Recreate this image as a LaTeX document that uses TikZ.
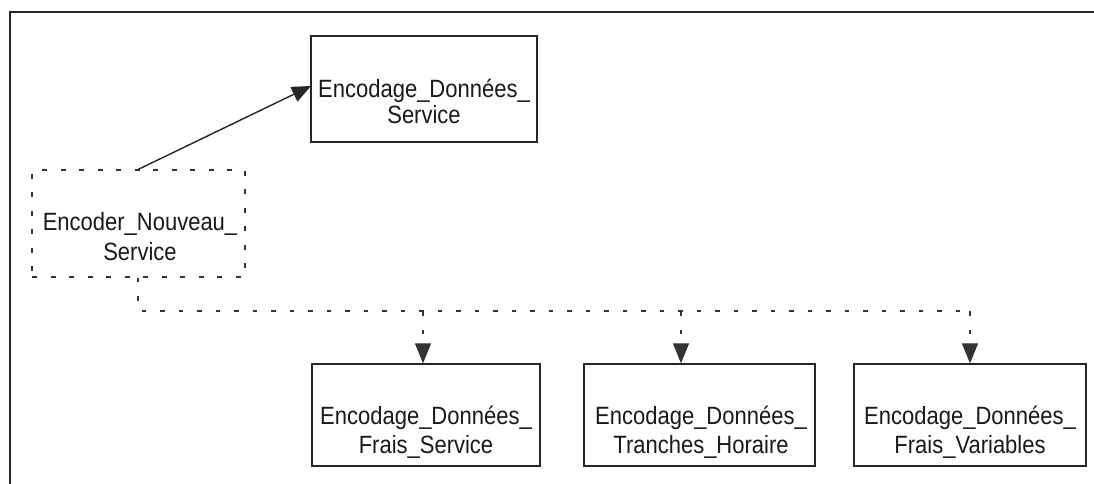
\documentclass[tikz,border=0pt]{standalone}
\usepackage{fontspec}
\setmainfont{Liberation Sans}[FakeStretch=0.88]
\usetikzlibrary{arrows.meta}
\begin{document}
\begin{tikzpicture}[x=1pt,y=-1pt,
  box/.style={draw=black!85, line width=1.3pt, minimum width=#1, minimum height=106pt, inner sep=0pt},
  dbox/.style={draw=black!80, line width=1.2pt, dash pattern=on 5pt off 13.5pt, minimum width=213pt, minimum height=107pt, inner sep=0pt},
  txt/.style={anchor=base, inner sep=0pt, font=\fontsize{25}{26}\selectfont, text=black!90},
  solidarrow/.style={draw=black!85, line width=1.4pt, -{Triangle[length=19pt,width=16pt]}},
  dotline/.style={draw=black!80, line width=1.2pt, dash pattern=on 4.5pt off 14pt},
  dotarrow/.style={dotline, -{Triangle[length=20pt,width=16pt]}}
]
\useasboundingbox (0,0) rectangle (1094,484);
% frame
\draw[line width=2pt, black!85] (10,484) -- (10,12) -- (1094,12);

% boxes
\node[box=226pt] (eds) at (424,89) {};
\node[dbox] (enc) at (138.5,223.5) {};
\node[box=228pt, minimum height=102pt] (fs) at (426,415) {};
\node[box=231pt, minimum height=102pt] (th) at (699.5,415) {};
\node[box=232pt, minimum height=102pt] (fv) at (970,415) {};

% texts
\node[txt] (eds1) at (424,98) {Encodage\_Données\_};
\node[txt] (eds2) at (424,124) {Service};
\node[txt] (enc1) at (140,230) {Encoder\_Nouveau\_};
\node[txt] (enc2) at (140,260) {Service};
\node[txt] (fs1) at (426,424) {Encodage\_Données\_};
\node[txt] (fs2) at (426,453) {Frais\_Service};
\node[txt] (th1) at (701,424) {Encodage\_Données\_};
\node[txt] (th2) at (701,453) {Tranches\_Horaire};
\node[txt] (fv1) at (970,424) {Encodage\_Données\_};
\node[txt] (fv2) at (970,453) {Frais\_Variables};

% solid arrow
\coordinate (encTop) at (137,170);
\coordinate (edsIn) at (311,86);
\draw[solidarrow] (encTop) -- (edsIn);

% dotted bus
\coordinate (busL) at (138,311);
\coordinate (b1) at (423,311);
\coordinate (b2) at (681,311);
\coordinate (b3) at (970,311);
\draw[dotline] (enc.south -| busL) -- (busL) -- (b3);
\draw[dotarrow] (b1) -- (b1 |- fs.north);
\draw[dotarrow] (b2) -- (b2 |- th.north);
\draw[dotarrow] (b3) -- (b3 |- fv.north);
\end{tikzpicture}
\end{document}
